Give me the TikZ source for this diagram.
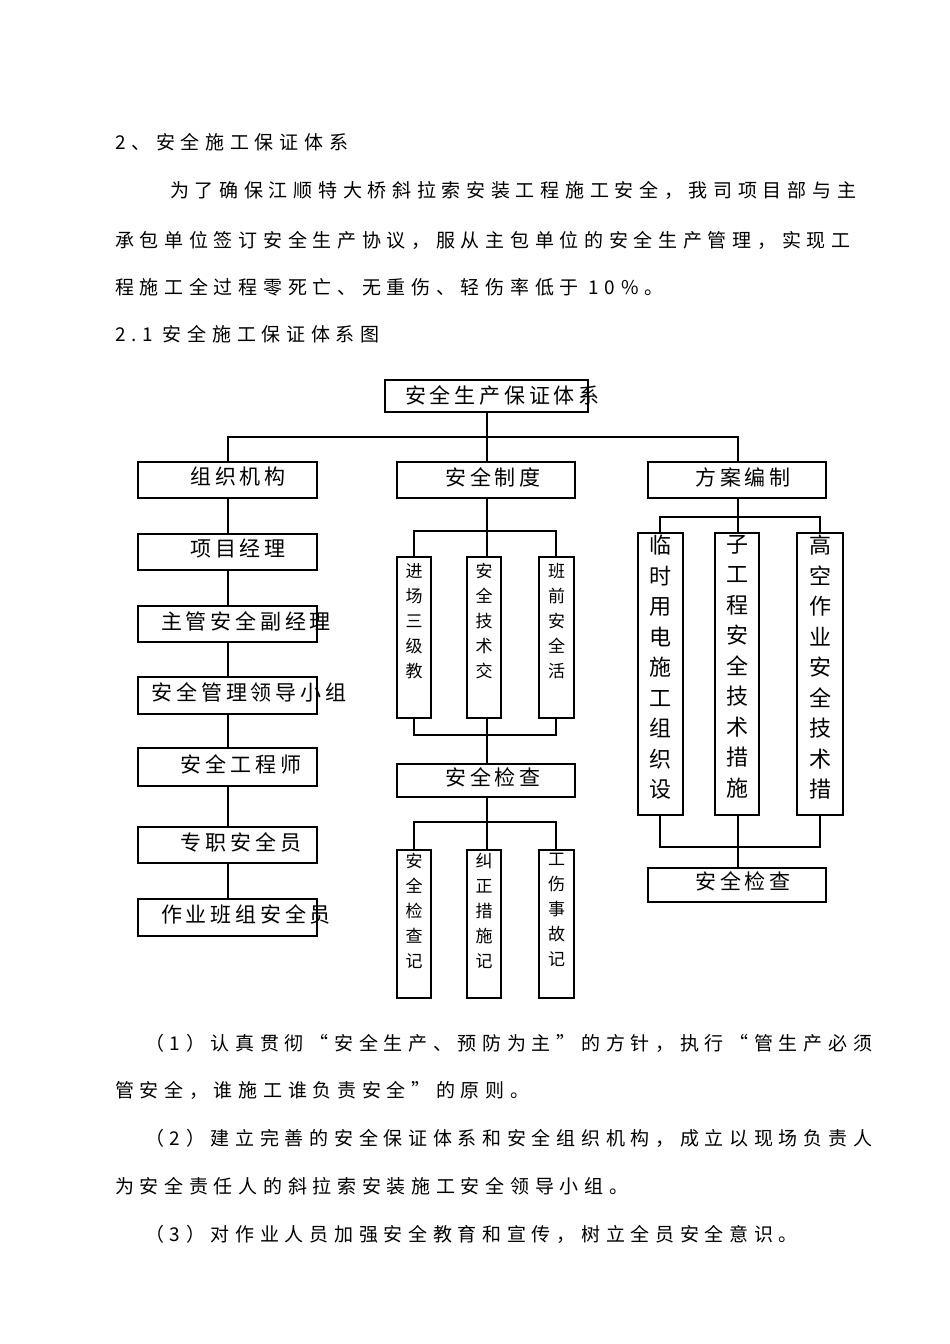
\documentclass[tikz,border=0pt]{standalone}
\usepackage{fontspec}
\newfontfamily\cjk[LetterSpace=30]{Noto Sans CJK SC}
\newfontfamily\cjkl[LetterSpace=18]{Noto Sans CJK SC}
\newfontfamily\cjkb{Noto Sans CJK SC}
\begin{document}
\begin{tikzpicture}[x=1pt,y=-1pt,
  bx/.style={draw,line width=1.2pt},
  ln/.style={line width=1.2pt},
  txt/.style={anchor=west,inner sep=0pt,font=\cjk\fontsize{19}{19}\selectfont},
  lab/.style={inner sep=0pt,font=\cjkl\fontsize{21}{21}\selectfont},
  vs/.style={inner sep=0pt,align=center,font=\cjkb\fontsize{17}{25}\selectfont},
  vb/.style={inner sep=0pt,align=center,font=\cjkb\fontsize{22}{30.5}\selectfont}]
\useasboundingbox (0,0) rectangle (950,1344);
\fill[white] (0,0) rectangle (950,1344);
% body text
\node[txt] (h1) at (115,142) {2、安全施工保证体系};
\node[txt] (p1) at (170,190) {为了确保江顺特大桥斜拉索安装工程施工安全，我司项目部与主};
\node[txt] (p2) at (115,240) {承包单位签订安全生产协议，服从主包单位的安全生产管理，实现工};
\node[txt] (p3) at (115,287) {程施工全过程零死亡、无重伤、轻伤率低于 10\%。};
\node[txt] (h2) at (115,334) {2.1 安全施工保证体系图};
\node[txt] (q1) at (145,1043) {（1）认真贯彻“安全生产、预防为主”的方针，执行“管生产必须};
\node[txt] (q2) at (115,1090) {管安全，谁施工谁负责安全”的原则。};
\node[txt] (q3) at (145,1138) {（2）建立完善的安全保证体系和安全组织机构，成立以现场负责人};
\node[txt] (q4) at (115,1186) {为安全责任人的斜拉索安装施工安全领导小组。};
\node[txt] (q5) at (145,1234) {（3）对作业人员加强安全教育和宣传，树立全员安全意识。};
% top
\draw[bx] (385,380) rectangle (588,412);
\node[lab,anchor=west] (top) at (405,395) {安全生产保证体系};
\coordinate (tb) at (487,412);
\draw[ln] (tb) -- (487,462);
\draw[ln] (228,462) -- (228,437) -- (738,437) -- (738,462);
% level 2
\draw[bx] (138,462) rectangle (317,498); \node[lab] (org) at (238,477) {组织机构};
\draw[bx] (397,462) rectangle (575,498); \node[lab] (zd) at (493,477) {安全制度};
\draw[bx] (648,462) rectangle (826,498); \node[lab] (fa) at (743,477) {方案编制};
% left column
\draw[ln] (228,498) -- (228,899);
\foreach \ya/\yb/\t/\xx in {534/570/项目经理/238,606/642/主管安全副经理/246,677/714/安全管理领导小组/249,748/786/安全工程师/241,827/863/专职安全员/241,899/936/作业班组安全员/246}{
  \draw[bx,fill=white] (138,\ya) rectangle (317,\yb);
  \node[lab] at (\xx,{(\ya+\yb)/2-3}) {\t};
}
% middle
\draw[ln] (487,498) -- (487,764);
\draw[ln] (414,557) -- (414,531) -- (556,531) -- (556,557);
\draw[ln] (414,718) -- (414,735) -- (556,735) -- (556,718);
\foreach \xa/\xb/\t in {397/431/进\\场\\三\\级\\教,467/501/安\\全\\技\\术\\交,539/574/班\\前\\安\\全\\活}{
  \draw[bx,fill=white] (\xa,557) rectangle (\xb,718);
  \node[vs,anchor=north] at ({(\xa+\xb)/2},563) {\t};
}
\draw[bx] (397,764) rectangle (575,797); \node[lab] (jc1) at (493,777) {安全检查};
\draw[ln] (487,797) -- (487,850);
\draw[ln] (414,850) -- (414,822) -- (556,822) -- (556,850);
\foreach \xa/\xb/\t in {397/431/安\\全\\检\\查\\记,467/501/纠\\正\\措\\施\\记,539/574/工\\伤\\事\\故\\记}{
  \draw[bx,fill=white] (\xa,850) rectangle (\xb,998);
  \node[vs,anchor=north] at ({(\xa+\xb)/2},853) {\t};
}
% right
\draw[ln] (738,498) -- (738,533);
\draw[ln] (660,533) -- (660,517) -- (820,517) -- (820,533);
\draw[ln] (660,815) -- (660,847) -- (820,847) -- (820,815);
\draw[ln] (738,815) -- (738,868);
\foreach \xa/\xb/\t in {638/683/临\\时\\用\\电\\施\\工\\组\\织\\设,715/759/子\\工\\程\\安\\全\\技\\术\\措\\施,797/843/高\\空\\作\\业\\安\\全\\技\\术\\措}{
  \draw[bx,fill=white] (\xa,533) rectangle (\xb,815);
  \node[vb,anchor=north] at ({(\xa+\xb)/2},535) {\t};
}
\draw[bx] (648,868) rectangle (826,902); \node[lab] (jc2) at (743,881) {安全检查};
\end{tikzpicture}
\end{document}
